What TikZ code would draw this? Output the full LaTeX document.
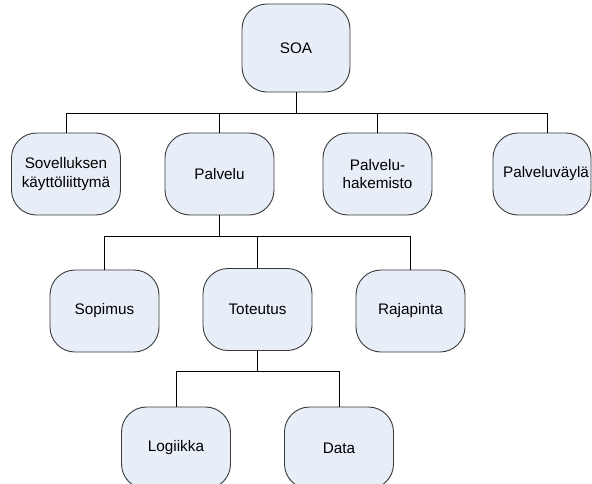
\documentclass[tikz,border=0pt]{standalone}
\usepackage{fontspec}
\setmainfont{Liberation Sans}
\definecolor{boxfill}{HTML}{E8EEF7}
\definecolor{boxline}{HTML}{3A3A3A}
\begin{document}
\begin{tikzpicture}[x=1pt,y=-1pt,
  unit/.style={draw=boxline, fill=boxfill, line width=0.9pt,
    rounded corners=25pt, minimum width=109pt, minimum height=82pt,
    inner sep=0pt, align=center,
    font=\fontsize{15.3}{18.5}\selectfont},
  link/.style={draw=black, line width=0.8pt}]
\useasboundingbox (0,0) rectangle (592,483);
\clip (0,0) rectangle (592,483);

% top level
\node[unit, minimum width=108pt, minimum height=88pt] (soa) at (296,48) {SOA};

% second level
\node[unit] (sov)  at (66,174)    {Sovelluksen\\käyttöliittymä};
\node[unit] (palv) at (219.5,174) {Palvelu};
\node[unit] (hak)  at (377.5,174) {Palvelu-\\hakemisto};
\node[unit, minimum width=98pt] (vayla) at (542,174) {\hspace*{8pt}Palveluväylä};

% third level
\node[unit] (sop)  at (104.5,311) {Sopimus};
\node[unit] (tot)  at (257.5,309.5) {Toteutus};
\node[unit] (raja) at (410.5,311) {Rajapinta};

% fourth level
\node[unit] (log)  at (176,448) {Logiikka};
\node[unit] (data) at (339,448) {Data};

% connectors
\path[link] (soa.south) -- ++(0,21) -| (sov.north);
\path[link] (soa.south) -- ++(0,21) -| (palv.north);
\path[link] (soa.south) -- ++(0,21) -| (hak.north);
\path[link] (soa.south) -- ++(0,21) -| ([xshift=5pt]vayla.north);

\path[link] (palv.south) -- ++(0,21) -| (sop.north);
\path[link] (palv.south) -- ++(0,21) -| (tot.north);
\path[link] (palv.south) -- ++(0,21) -| (raja.north);

\path[link] (tot.south) -- ++(0,20) -| (log.north);
\path[link] (tot.south) -- ++(0,20) -| (data.north);
\end{tikzpicture}
\end{document}
